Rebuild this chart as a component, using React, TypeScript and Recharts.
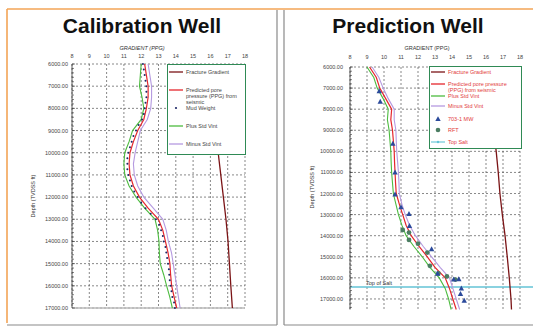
import { CartesianGrid, Legend, ReferenceLine, Scatter, ScatterChart, XAxis, YAxis } from 'recharts';

const FONT = '"Liberation Sans", Arial, sans-serif';

// axes
const X_TICKS = [8, 9, 10, 11, 12, 13, 14, 15, 16, 17, 18];
const Y_TICKS = [6000, 7000, 8000, 9000, 10000, 11000, 12000, 13000, 14000, 15000, 16000, 17000];
const Y_MINOR = Array.from({ length: 58 }, (_, i) => 6000 + i * 200); // ruler marks only

// calibration well
const CAL_DEPTH = [6000, 6500, 7000, 7500, 8000, 8500, 9000, 9500, 10000, 10500, 11000, 11500, 12000, 12500, 13000, 13500, 14000, 14500, 15000, 15500, 16000, 16500, 17000];
const CAL_PLUS = [12.0, 11.95, 11.9, 12.05, 12.15, 12.0, 11.5, 11.3, 11.05, 11.0, 11.05, 11.3, 11.7, 12.2, 12.8, 12.95, 13.03, 13.05, 13.1, 13.3, 13.47, 13.65, 13.8];
const CAL_PRED = [12.2, 12.3, 12.4, 12.4, 12.3, 12.15, 11.8, 11.55, 11.35, 11.3, 11.35, 11.55, 11.9, 12.4, 13.0, 13.25, 13.4, 13.55, 13.66, 13.7, 13.76, 13.9, 14.05];
const CAL_MINUS = [12.4, 12.5, 12.6, 12.6, 12.55, 12.35, 11.95, 11.8, 11.65, 11.55, 11.6, 11.8, 12.15, 12.7, 13.25, 13.45, 13.57, 13.75, 13.85, 13.95, 14.05, 14.15, 14.25];
const CAL_FRAC_DEPTH = [6000, 7000, 8000, 9000, 10000, 11000, 12000, 13000, 14000, 15000, 16000, 17000];
const CAL_FRAC = [15.7, 15.9, 16.1, 16.3, 16.45, 16.6, 16.75, 16.9, 17.02, 17.1, 17.18, 17.27];
const CAL_MUD_DEPTH = [6000, 6250, 6500, 6750, 7000, 7250, 7500, 7750, 8000, 8250, 8500, 8750, 9000, 9250, 9500, 9750, 10000, 10250, 10500, 10750, 11000, 11250, 11500, 11750, 12000, 12250, 12500, 12750, 13000, 13250, 13500, 13750, 14000, 14250, 14500, 14750, 15000, 15250, 15500, 15750, 16000, 16250, 16500, 16750, 17000];
const CAL_MUD = [12.1, 12.15, 12.2, 12.25, 12.3, 12.3, 12.3, 12.25, 12.2, 12.15, 12.05, 11.85, 11.7, 11.55, 11.45, 11.35, 11.25, 11.2, 11.2, 11.2, 11.25, 11.35, 11.45, 11.6, 11.8, 12.0, 12.25, 12.55, 12.85, 13.05, 13.15, 13.25, 13.3, 13.4, 13.45, 13.5, 13.55, 13.6, 13.62, 13.65, 13.7, 13.75, 13.8, 13.9, 13.95];
const CAL_LEGEND = ['Fracture Gradient', 'Predicted pore pressure (PPG) from seismic', 'Mud Weight', 'Plus Std Vint', 'Minus Std Vint'];

// prediction well
const PRE_DEPTH = [6000, 6500, 7000, 7500, 8000, 8500, 9000, 9500, 10000, 10500, 11000, 11500, 12000, 12500, 13000, 13500, 14000, 14500, 15000, 15500, 16000, 16500, 17000, 17500];
const PRE_PLUS = [9.0, 9.4, 9.6, 9.95, 10.25, 10.2, 10.3, 10.35, 10.4, 10.42, 10.45, 10.5, 10.55, 10.7, 10.85, 11.05, 11.3, 11.75, 12.25, 12.7, 13.25, 13.6, 13.8, 13.95];
const PRE_PRED = [9.15, 9.55, 9.75, 10.1, 10.45, 10.4, 10.5, 10.55, 10.6, 10.62, 10.65, 10.68, 10.72, 10.9, 11.1, 11.3, 11.6, 12.05, 12.55, 13.0, 13.6, 13.85, 14.05, 14.25];
const PRE_MINUS = [9.3, 9.7, 9.95, 10.25, 10.6, 10.6, 10.7, 10.72, 10.75, 10.8, 10.85, 10.88, 10.9, 11.05, 11.25, 11.5, 11.85, 12.3, 12.8, 13.3, 13.85, 14.05, 14.25, 14.45];
const PRE_FRAC_DEPTH = [6000, 7000, 8000, 9000, 10000, 11000, 12000, 13000, 14000, 15000, 16000, 17000, 17500];
const PRE_FRAC = [16.05, 16.2, 16.3, 16.45, 16.6, 16.72, 16.82, 16.96, 17.12, 17.25, 17.37, 17.47, 17.5];
const MW_DEPTH = [7150, 7650, 9640, 11000, 12050, 12650, 12970, 13540, 14640, 15800, 16080, 16060, 16500, 16760, 17080];
const MW_PPG = [9.72, 9.78, 10.52, 10.65, 10.65, 11.0, 11.47, 11.5, 12.8, 13.15, 14.1, 14.4, 14.55, 14.5, 14.72];
const RFT_DEPTH = [13730, 13850, 14200, 14380, 14800, 15430, 15790, 15930, 16080];
const RFT_PPG = [11.1, 11.47, 11.47, 12.0, 12.55, 12.7, 13.2, 13.7, 14.2];
const TOP_SALT = 16430;
const PRE_LEGEND = ['Fracture Gradient', 'Predicted pore pressure (PPG) from seismic', 'Plus Std Vint', 'Minus Std Vint', '703-1 MW', 'RFT', 'Top Salt'];

const C = {
  frac: '#7b1416',
  pred: '#e5262c',
  plus: '#4cbb3f',
  minus: '#b59ae0',
  mud: '#1d2766',
  mw: '#2b4a9b',
  rft: '#4b7d62',
  salt: '#63c3d6',
  grid: '#555',
  box: '#2f8a55',
  text: '#444',
};

const pts = (ppg: number[], depth: number[]) => ppg.map((v, i) => ({ ppg: v, depth: depth[i] }));

const NoDot = () => <g />;
const MudDot = (p: any) => <circle cx={p.cx} cy={p.cy} r={1} fill={C.mud} />;
const Tri = (p: any) => (
  <polygon points={`${p.cx},${p.cy - 3} ${p.cx - 2.7},${p.cy + 2} ${p.cx + 2.7},${p.cy + 2}`} fill={C.mw} />
);
const Dot = (p: any) => <circle cx={p.cx} cy={p.cy} r={2.4} fill={C.rft} />;

function DepthTick({ x, y, payload, gap }: any) {
  const major = payload.value % 1000 === 0;
  return (
    <g>
      <line x1={x + gap} x2={x + gap + (major ? 3 : 2)} y1={y} y2={y} stroke="#333" strokeWidth={0.6} />
      {major && (
        <text x={x} y={y + 2} textAnchor="end" fontSize={5.5} fill={C.text} fontFamily={FONT}>
          {payload.value.toFixed(2)}
        </text>
      )}
    </g>
  );
}

function Sample({ kind, color }: { kind: string; color: string }) {
  return (
    <svg width={14} height={6} style={{ flex: 'none', marginRight: 3 }}>
      {kind === 'line' && <line x1={0} x2={14} y1={3} y2={3} stroke={color} strokeWidth={1.3} />}
      {kind === 'dot' && <circle cx={7} cy={3} r={1.1} fill={color} />}
      {kind === 'tri' && <polygon points="7,0.3 4.3,5 9.7,5" fill={color} />}
      {kind === 'circle' && <circle cx={7} cy={3} r={2.3} fill={color} />}
      {kind === 'salt' && (
        <>
          <line x1={0} x2={14} y1={3} y2={3} stroke={color} strokeWidth={1.1} />
          <circle cx={7} cy={3} r={1.2} fill={color} />
        </>
      )}
    </svg>
  );
}

function LegendBox({ names, kinds, colors, rowH, textColor, padTop }: any) {
  return (
    <div
      style={{
        boxSizing: 'border-box',
        width: '100%',
        height: '100%',
        background: '#fff',
        border: `1.5px solid ${C.box}`,
        padding: `${padTop}px 2px 0 1px`,
        fontFamily: FONT,
        fontSize: 5.5,
        lineHeight: '6px',
        color: textColor,
      }}
    >
      {names.map((n: string, i: number) => (
        <div key={n} style={{ display: 'flex', alignItems: 'flex-start', height: rowH[i] }}>
          <Sample kind={kinds[i]} color={colors[i]} />
          <span>{n}</span>
        </div>
      ))}
    </div>
  );
}

function Frame() {
  return (
    <svg width={533} height={331} style={{ position: 'absolute', left: 0, top: 0 }}>
      <path d="M7,9 H533" stroke="#f3a456" strokeWidth={1.6} fill="none" />
      <path d="M7,9 V323" stroke="#f3a456" strokeWidth={1.6} fill="none" />
      <path d="M277,10 V325 M284,10 V325 M7,325 H277 M284,325 H533" stroke="#8a8a8a" strokeWidth={1.2} fill="none" />
      <g fontFamily={FONT} fontWeight="bold" fontSize={21} fill="#111" textAnchor="middle">
        <text x={142} y={33}>Calibration Well</text>
        <text x={408} y={33}>Prediction Well</text>
      </g>
      <g fontFamily={FONT} fontSize={5.5} fill="#333" textAnchor="middle">
        <text x={142} y={50} fontStyle="italic">GRADIENT (PPG)</text>
        <text x={427} y={50}>GRADIENT (PPG)</text>
        <text transform="translate(35,196) rotate(-90)">Depth (TVDSS ft)</text>
        <text transform="translate(314,187) rotate(-90)">Depth (TVDSS ft)</text>
      </g>
    </svg>
  );
}

function axes(max: number, gap: number, tickMargin: number) {
  return [
    <XAxis
      key="x"
      type="number"
      dataKey="ppg"
      orientation="top"
      domain={[8, 18]}
      ticks={X_TICKS}
      height={20}
      axisLine={false}
      tickLine={false}
      tickSize={0}
      tickMargin={tickMargin}
      interval={0}
      tick={{ fontSize: 5.5, fill: C.text, fontFamily: FONT }}
    />,
    <YAxis
      key="y"
      type="number"
      dataKey="depth"
      reversed
      domain={[6000, max]}
      ticks={Y_MINOR.filter((v) => v <= max)}
      width={50}
      interval={0}
      tickLine={false}
      tickSize={0}
      tickMargin={gap}
      axisLine={{ stroke: '#333', strokeWidth: 0.8 }}
      tick={(p: any) => <DepthTick {...p} gap={gap} />}
    />,
    <CartesianGrid
      key="g"
      stroke={C.grid}
      strokeDasharray="2 2"
      strokeWidth={0.7}
      horizontalValues={Y_TICKS}
      verticalValues={X_TICKS}
    />,
  ];
}

function SaltLabel({ viewBox }: any) {
  return (
    <text x={viewBox.x + 16} y={viewBox.y - 1.5} fontSize={5.5} fill="#333" fontFamily={FONT}>
      Top of Salt
    </text>
  );
}

function CalibrationChart() {
  return (
    <ScatterChart width={270} height={331} margin={{ top: 44, right: 25, bottom: 23, left: 22 }}>
      {axes(17000, 4, 6)}
      <ReferenceLine y={17000} stroke="#bbb" strokeWidth={1.5} />
      <Scatter data={pts(CAL_FRAC, CAL_FRAC_DEPTH)} fill={C.frac} line={{ stroke: C.frac, strokeWidth: 1.3 }} shape={NoDot} isAnimationActive={false} />
      <Scatter data={pts(CAL_PLUS, CAL_DEPTH)} fill={C.plus} line={{ stroke: C.plus, strokeWidth: 1.1 }} shape={NoDot} isAnimationActive={false} />
      <Scatter data={pts(CAL_MINUS, CAL_DEPTH)} fill={C.minus} line={{ stroke: C.minus, strokeWidth: 1.1 }} shape={NoDot} isAnimationActive={false} />
      <Scatter data={pts(CAL_PRED, CAL_DEPTH)} fill={C.pred} line={{ stroke: C.pred, strokeWidth: 1.2 }} shape={NoDot} isAnimationActive={false} />
      <Scatter data={pts(CAL_MUD, CAL_MUD_DEPTH)} fill={C.mud} shape={MudDot} isAnimationActive={false} />
      <Legend
        layout="horizontal"
        verticalAlign="middle"
        align="center"
        wrapperStyle={{ left: 167, top: 64, width: 79, height: 91 }}
        content={() => (
          <LegendBox
            names={CAL_LEGEND}
            kinds={['line', 'line', 'dot', 'line', 'line']}
            colors={[C.frac, C.pred, C.mud, C.plus, C.minus]}
            rowH={[17.5, 18, 18, 18, 18]}
            textColor="#444"
            padTop={4}
          />
        )}
      />
    </ScatterChart>
  );
}

function PredictionChart() {
  return (
    <ScatterChart width={248} height={331} margin={{ top: 47, right: 13, bottom: 21.5, left: 15 }}>
      {axes(17500, 7, 8)}
      <ReferenceLine
        segment={[{ x: 8, y: TOP_SALT }, { x: 18.8, y: TOP_SALT }]}
        ifOverflow="visible"
        stroke={C.salt}
        strokeWidth={1.4}
        label={<SaltLabel />}
      />
      <Scatter data={pts(PRE_FRAC, PRE_FRAC_DEPTH)} fill={C.frac} line={{ stroke: C.frac, strokeWidth: 1.3 }} shape={NoDot} isAnimationActive={false} />
      <Scatter data={pts(PRE_PLUS, PRE_DEPTH)} fill={C.plus} line={{ stroke: C.plus, strokeWidth: 1.1 }} shape={NoDot} isAnimationActive={false} />
      <Scatter data={pts(PRE_MINUS, PRE_DEPTH)} fill={C.minus} line={{ stroke: C.minus, strokeWidth: 1.1 }} shape={NoDot} isAnimationActive={false} />
      <Scatter data={pts(PRE_PRED, PRE_DEPTH)} fill={C.pred} line={{ stroke: C.pred, strokeWidth: 1.2 }} shape={NoDot} isAnimationActive={false} />
      <Scatter data={pts(RFT_PPG, RFT_DEPTH)} fill={C.rft} shape={Dot} isAnimationActive={false} />
      <Scatter data={pts(MW_PPG, MW_DEPTH)} fill={C.mw} shape={Tri} isAnimationActive={false} />
      <Legend
        layout="horizontal"
        verticalAlign="middle"
        align="center"
        wrapperStyle={{ left: 144, top: 66, width: 93, height: 83 }}
        content={() => (
          <LegendBox
            names={PRE_LEGEND}
            kinds={['line', 'line', 'line', 'line', 'tri', 'circle', 'salt']}
            colors={[C.frac, C.pred, C.plus, C.minus, C.mw, C.rft, C.salt]}
            rowH={[12.3, 12, 10.7, 12.3, 11, 12, 10]}
            textColor="#e23b3b"
            padTop={1.5}
          />
        )}
      />
    </ScatterChart>
  );
}

export default function App() {
  return (
    <div style={{ position: 'absolute', left: 0, top: 0, width: 533, height: 331, background: '#fff', overflow: 'hidden' }}>
      <Frame />
      <div style={{ position: 'absolute', left: 0, top: 0 }}>
        <CalibrationChart />
      </div>
      <div style={{ position: 'absolute', left: 285, top: 0 }}>
        <PredictionChart />
      </div>
    </div>
  );
}
